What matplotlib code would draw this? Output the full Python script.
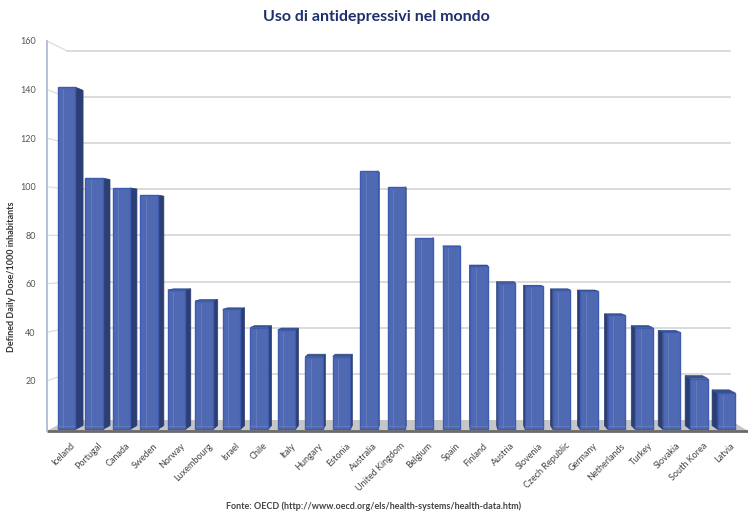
import numpy as np
import matplotlib
matplotlib.use("Agg")
import matplotlib.pyplot as plt
from matplotlib.patches import Polygon
from matplotlib.transforms import ScaledTranslation

# Data
countries = ["Iceland", "Portugal", "Canada", "Sweden", "Norway", "Luxembourg",
             "Israel", "Chile", "Italy", "Hungary", "Estonia", "Australia",
             "United Kingdom", "Belgium", "Spain", "Finland", "Austria",
             "Slovenia", "Czech Republic", "Germany", "Netherlands", "Turkey",
             "Slovakia", "South Korea", "Latvia"]
values = [141, 103.5, 99.5, 96.5, 57.5, 53, 49.5, 42, 41, 30, 30, 106.5,
          100, 79, 75.5, 67.5, 60.5, 59, 57.5, 57, 47, 42, 40, 21, 15]
yticks = [20, 40, 60, 80, 100, 120, 140, 160]

title = "Uso di antidepressivi nel mondo"
ylabel = "Defined Daily Dose/1000 inhabitants"
source = "Fonte: OECD (http://www.oecd.org/els/health-systems/health-data.htm)"

plt.rcParams['font.family'] = ['Lato', 'DejaVu Sans']

fig = plt.figure(figsize=(7.48, 5.13), dpi=100)
ax = fig.add_axes([0.0628, 0.1579, 0.9372, 0.7622])

x0, x1 = -0.709, 24.78
y0, y1 = -1.03, 160
ax.set_xlim(x0, x1)
ax.set_ylim(y0, y1)
for s in ax.spines.values():
    s.set_visible(False)

# fake 3d: vanishing point and depth scale (wall / bars)
vpx, vpy = 13.84, 78.1
s_wall = 0.95
s_bar = 0.979


def back(px, py, s):
    return vpx + (px - vpx) * s, vpy + (py - vpy) * s


# floor
bl = back(x0, 0, s_wall)
br = (24.13, bl[1])
floor = Polygon([(x0, -0.6), (x1, -0.6), br, bl], closed=True,
                facecolor="#c6c6c6", edgecolor="none", zorder=1)
ax.add_patch(floor)
ax.plot([x0, x1], [-0.6, -0.6], color="#6a6a6a", lw=2, zorder=5,
        solid_capstyle="butt", clip_on=False)

# back wall grid lines + left wall lines
for v in yticks:
    bx, by = back(x0, v, s_wall)
    ax.plot([bx, 24.13], [by, by], color="#d4d4d4", lw=1.2, zorder=0.5)
    ax.plot([x0, bx], [v, by], color="#dcdcdc", lw=0.9, zorder=0.5)
ax.plot([x0, x0], [-0.6, 160], color="#a9b6d3", lw=1.2, zorder=5, clip_on=False)

# bars
w = 0.64
xs = np.arange(len(countries))
for i, v in zip(xs, values):
    fx0, fx1 = i - w / 2, i + w / 2
    b0 = back(fx0, 0, s_bar)
    b1 = back(fx1, v, s_bar)
    bxl, _ = back(fx0, v, s_bar)
    if fx1 < vpx:
        side = [(fx1, 0), (fx1, v), (b1[0], b1[1]), (b1[0], back(fx1, 0, s_bar)[1])]
        ax.add_patch(Polygon(side, closed=True, facecolor="#2c3f74",
                             edgecolor="#2c3f74", lw=0.5, zorder=2))
    elif fx0 > vpx:
        side = [(fx0, 0), (fx0, v), (bxl, b1[1]), (b0[0], b0[1])]
        ax.add_patch(Polygon(side, closed=True, facecolor="#2c3f74",
                             edgecolor="#2c3f74", lw=0.5, zorder=2))
    if v < vpy:
        top = [(fx0, v), (fx1, v), (b1[0], b1[1]), (bxl, b1[1])]
        ax.add_patch(Polygon(top, closed=True, facecolor="#34508f",
                             edgecolor="#34508f", lw=0.5, zorder=2))

ax.bar(xs, values, width=w, color="#5069b3", edgecolor="#3d5bb0",
       linewidth=1.0, zorder=3)
# glassy stripe on the front faces
ax.vlines(xs - w * 0.18, 0.5, np.array(values) - 0.8, color="#6a82c4",
          lw=0.8, alpha=0.7, zorder=4)
ax.hlines(np.full(len(xs), 1.5), xs - w / 2, xs + w / 2, color="#6a82c4",
          lw=0.8, alpha=0.7, zorder=4)

# ticks
ax.set_yticks(yticks)
ax.set_yticklabels([str(t) for t in yticks], fontsize=6.5, color="#555555")
ax.tick_params(axis="y", length=0, pad=8)
ax.set_xticks(xs)
ax.set_xticklabels(countries, rotation=45, ha="right", va="center",
                   rotation_mode="anchor", fontsize=6.5, color="#444444")
ax.tick_params(axis="x", length=0, pad=9)
off = ScaledTranslation(7 / 100, 0, fig.dpi_scale_trans)
for lab in ax.get_xticklabels():
    lab.set_transform(lab.get_transform() + off)

fig.text(0.016, 0.46, ylabel, rotation=90, ha="center", va="center",
         fontsize=6.5, fontweight="bold", color="#333333")
fig.text(0.503, 0.966, title, ha="center", va="center", fontsize=11.5,
         fontweight="bold", color="#1f2f6e")
fig.text(0.5, 0.013, source, ha="center", va="center", fontsize=6.5,
         fontweight="bold", color="#444444")

fig.savefig("out.png", dpi=100, facecolor="white")
